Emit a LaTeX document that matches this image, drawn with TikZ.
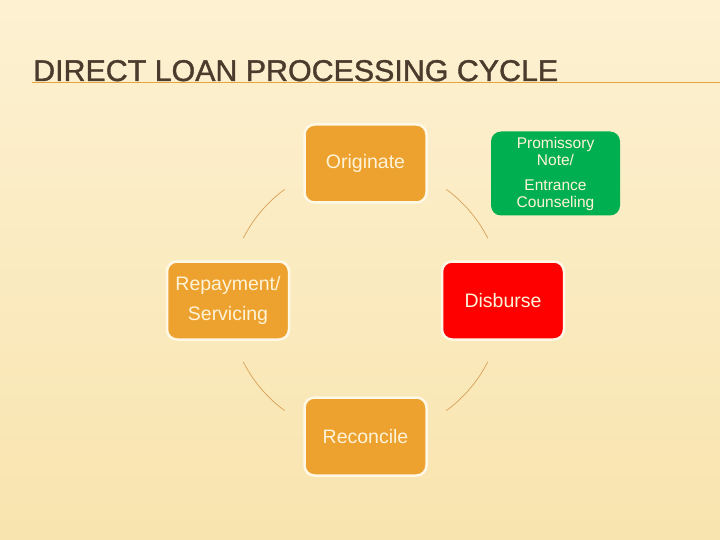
\documentclass[tikz,border=0pt]{standalone}
\usepackage{fontspec}
\setmainfont{Liberation Sans}
\newfontfamily\titlefont[FakeBold=1.2]{Liberation Sans}
\definecolor{bgtop}{HTML}{FDF1D2}
\definecolor{bgbot}{HTML}{F8E4AE}
\definecolor{titlecol}{HTML}{4A3B2C}
\definecolor{rulecol}{HTML}{E8A43C}
\definecolor{orangebox}{HTML}{EDA22F}
\definecolor{greenbox}{HTML}{00B050}
\definecolor{redbox}{HTML}{FF0000}
\definecolor{boxtext}{HTML}{FFF3D8}
\definecolor{bordercol}{HTML}{FFF8E6}
\definecolor{arccol}{HTML}{D9A058}
\tikzset{
  cyclebox/.style={draw=bordercol, line width=2.5pt, rounded corners=10pt,
    minimum width=122pt, minimum height=78pt, inner sep=0pt, align=center,
    text=boxtext, font=\fontsize{19.5}{30}\selectfont},
  cyclearc/.style={draw=arccol, line width=0.7pt}
}
\begin{document}
\begin{tikzpicture}[x=1pt,y=-1pt]
\shade[top color=bgtop, bottom color=bgbot] (0,0) rectangle (720,540);
\useasboundingbox (0,0) rectangle (720,540);
% title
\node[anchor=base west, inner sep=0pt, text=titlecol] (title) at (33,81)
  {\resizebox{525pt}{\height}{\titlefont\fontsize{30}{30}\selectfont DIRECT LOAN PROCESSING CYCLE}};
\draw[rulecol, line width=1.6pt] (32,82.5) -- (720,82.5);
% boxes
\node[cyclebox, fill=orangebox] (orig) at (365.5,163.5) {Originate};
\node[cyclebox, fill=greenbox, draw=none, minimum width=129pt, minimum height=84pt,
  font=\fontsize{15.5}{17}\selectfont] (prom) at (555.5,173.5)
  {Promissory\\[0pt]Note/\\[8pt]Entrance\\[0pt]Counseling};
\node[cyclebox, fill=orangebox] (repay) at (228,300.5) {Repayment/\\Servicing};
\node[cyclebox, fill=redbox] (disb) at (503,300.5) {Disburse};
\node[cyclebox, fill=orangebox] (reco) at (365.5,436.5) {Reconcile};
% arcs
\coordinate (ctr) at (365.5,300);
\draw[cyclearc] ([shift={(126.2:137)}]ctr) arc[start angle=126.2, end angle=153.2, radius=137];
\draw[cyclearc] ([shift={(53.8:137)}]ctr) arc[start angle=53.8, end angle=26.8, radius=137];
\draw[cyclearc] ([shift={(-26.8:137)}]ctr) arc[start angle=-26.8, end angle=-53.8, radius=137];
\draw[cyclearc] ([shift={(-126.2:137)}]ctr) arc[start angle=-126.2, end angle=-153.2, radius=137];
\end{tikzpicture}
\end{document}
